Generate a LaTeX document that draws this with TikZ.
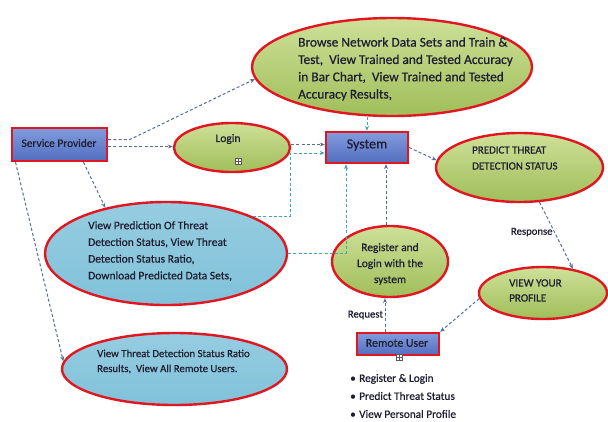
\documentclass[tikz,border=0pt]{standalone}
\usepackage{fontspec}
\setmainfont{Carlito}[FakeBold=0.6]
\usetikzlibrary{shapes.geometric,arrows.meta}
\definecolor{rborder}{RGB}{225,22,32}
\definecolor{gtop}{RGB}{206,224,152}
\definecolor{gmid}{RGB}{184,208,116}
\definecolor{gbot}{RGB}{160,190,90}
\definecolor{btopc}{RGB}{150,204,224}
\definecolor{bmidc}{RGB}{70,160,194}
\definecolor{bbotc}{RGB}{128,194,218}
\definecolor{boxtop}{RGB}{130,155,222}
\definecolor{boxbot}{RGB}{82,110,190}
\definecolor{dgray}{RGB}{88,108,150}
\definecolor{dteal}{RGB}{60,168,180}
\definecolor{tcol}{RGB}{30,30,48}
\pgfdeclarelayer{bg}
\pgfsetlayers{bg,main}
\begin{document}
\begin{tikzpicture}[x=1pt,y=-1pt,
  gell/.style={ellipse, draw=rborder, line width=2.4pt, top color=gtop, middle color=gmid, bottom color=gbot, inner sep=0pt},
  bell/.style={ellipse, draw=rborder, line width=2.4pt, top color=btopc, middle color=bmidc, bottom color=bbotc, inner sep=0pt},
  pbox/.style={rectangle, draw=rborder, line width=2.4pt, top color=boxtop, bottom color=boxbot, inner sep=0pt},
  conn/.style={dash pattern=on 3pt off 2.2pt, line width=1pt, -{Stealth[length=5pt,width=4pt]}},
  gb/.style={conn, draw=dgray},
  tl/.style={conn, draw=dteal},
  txt/.style={text=tcol, align=left, inner sep=0pt},
  lbl/.style={text=tcol, inner sep=1.5pt, font=\fontsize{10.7}{12}\selectfont},
  icon/.style={draw=gray!70!black, fill=white, minimum size=6.5pt, inner sep=0pt, line width=0.5pt,
    path picture={\draw[gray!70!black, line width=0.5pt] (path picture bounding box.north) -- (path picture bounding box.south) (path picture bounding box.west) -- (path picture bounding box.east);}}
]
\useasboundingbox[fill=white] (0,0) rectangle (608,421);

% shapes
\node[pbox, minimum width=95pt, minimum height=33pt] (sp) at (59.5,144.5) {};
\node[pbox, minimum width=82pt, minimum height=31pt] (sys) at (367,147.5) {};
\node[pbox, minimum width=82pt, minimum height=22pt] (ru) at (398,344) {};
\node[gell, minimum width=280pt, minimum height=98pt] (top) at (392,67) {};
\node[gell, minimum width=116pt, minimum height=49pt] (login) at (232,147.5) {};
\node[gell, minimum width=167pt, minimum height=69pt] (pred) at (519.5,167.5) {};
\node[bell, minimum width=242pt, minimum height=103pt] (blue1) at (166,253.5) {};
\node[gell, minimum width=116pt, minimum height=71pt] (reg) at (390,261.5) {};
\node[gell, minimum width=128pt, minimum height=52pt] (prof) at (543,293) {};
\node[bell, minimum width=225pt, minimum height=72pt] (blue2) at (174.5,369) {};

% texts
\node[txt, font=\fontsize{11.4}{13}\selectfont] (spT) at (59,143) {Service Provider};
\node[txt, font=\fontsize{14}{16}\selectfont] (sysT) at (367,145) {System};
\node[txt, font=\fontsize{11.8}{13}\selectfont] (ruT) at (397,343) {Remote User};
\node[txt, font=\fontsize{11.5}{13}\selectfont] (loginT) at (228,139) {Login};
\node[txt, anchor=west, font=\fontsize{13.4}{17.3}\selectfont] (topT) at (298,69)
  {Browse Network Data Sets and Train \&\\Test,\ \ View Trained and Tested Accuracy\\in Bar Chart,\ \ View Trained and Tested\\Accuracy Results,};
\node[txt, anchor=west, font=\fontsize{10.9}{16}\selectfont] (predT) at (472,158)
  {PREDICT THREAT\\DETECTION STATUS};
\node[txt, anchor=west, font=\fontsize{11.5}{16.7}\selectfont] (blue1T) at (88,251)
  {View Prediction Of Threat\\Detection Status, View Threat\\Detection Status Ratio,\\Download Predicted Data Sets,};
\node[txt, align=center, font=\fontsize{11.4}{16}\selectfont] (regT) at (390,264)
  {Register and\\Login with the\\system};
\node[txt, anchor=west, font=\fontsize{11.1}{15}\selectfont] (profT) at (509,290.5)
  {VIEW YOUR\\PROFILE};
\node[txt, anchor=west, font=\fontsize{10.8}{15}\selectfont] (blue2T) at (97,361.5)
  {View Threat Detection Status Ratio\\Results,\ \ View All Remote Users.};
\node[txt, anchor=west, font=\fontsize{11.3}{18}\selectfont] (bulT) at (350,396)
  {\makebox[9pt][l]{•}Register \& Login\\\makebox[9pt][l]{•}Predict Threat Status\\\makebox[9pt][l]{•}View Personal Profile};

% icons
\node[icon] (ic1) at (238,161) {};
\node[icon] (ic2) at (399,357) {};

% connectors
\coordinate (k1) at (130,139.5);
\draw[gb] ([yshift=5pt]sp.east) -- (k1) -- (top.185);
\draw[gb] ([yshift=-2pt]sp.east -| sp.east) -- ([yshift=-2pt]sp.east -| login.west);
\draw[gb] ([xshift=24pt]sp.south) -- (blue1.143);
\draw[gb] ([xshift=-44pt]sp.south) -- (blue2.176);
\draw[gb] ([yshift=3pt]login.east) -- ([yshift=3pt]login.east -| sys.west);
\draw[tl] (blue1.23) -- ++(37,0) |- ([yshift=-5.5pt]sys.west);
\draw[tl] (blue1.east) -| ([xshift=-21pt]sys.south);
\begin{pgfonlayer}{bg}
\draw[tl,-] (blue2.11) -- (blue2.11 |- blue1.east);
\end{pgfonlayer}
\draw[gb] ([xshift=-4pt]reg.north) -- ([xshift=-4pt]reg.north |- sys.south);
\draw[gb] ([xshift=-13pt]ru.north) -- ([xshift=-13pt]ru.north |- reg.south)
  node[lbl, pos=0.5, anchor=east] (reqL) {Request};
\draw[tl] (sys.north |- top.south) -- (sys.north);
\draw[gb] (sys.east) -- (pred.175);
\draw[gb] (pred.300) -- (prof.39) node[lbl, pos=0.45, anchor=east] (resL) {Response};
\draw[gb] (prof.185) -- (ru.north east);
\end{tikzpicture}
\end{document}
